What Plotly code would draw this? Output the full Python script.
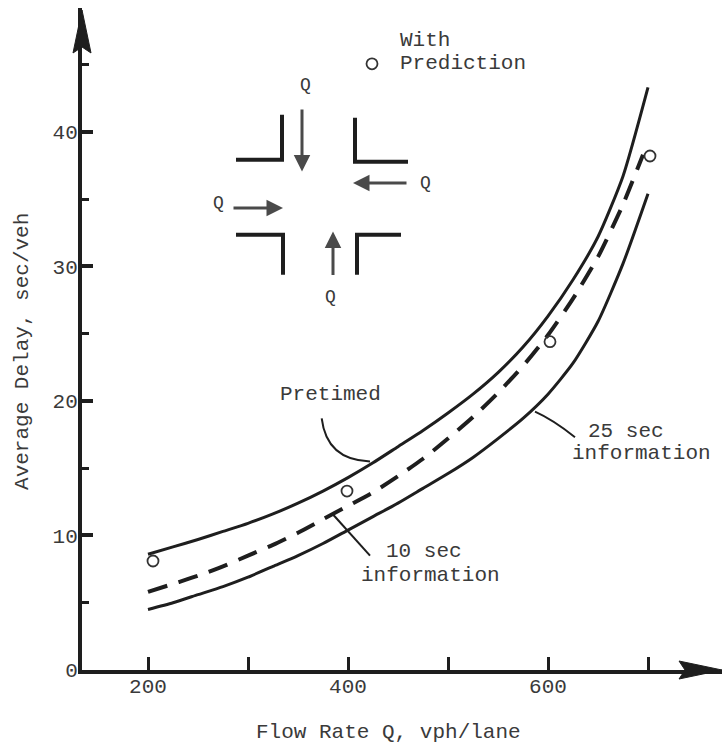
import plotly.graph_objects as go

# ---------------- data ----------------
flow = [200, 225, 250, 275, 300, 325, 350, 375, 400, 425, 450,
        475, 500, 525, 550, 575, 600, 625, 650, 675, 700]
pretimed = [8.6, 9.15, 9.7, 10.3, 10.9, 11.6, 12.4, 13.3, 14.3, 15.4, 16.6,
            17.8, 19.1, 20.5, 22.1, 24.0, 26.3, 29.0, 32.2, 36.7, 43.3]
flow_10 = [200, 225, 250, 275, 300, 325, 350, 375, 400, 425, 450,
           475, 500, 525, 550, 575, 600, 625, 650, 675, 695]
info_10 = [5.8, 6.4, 7.0, 7.7, 8.5, 9.3, 10.2, 11.2, 12.2, 13.2, 14.4,
           15.7, 17.2, 18.8, 20.6, 22.6, 24.9, 27.6, 30.7, 34.6, 38.3]
info_25 = [4.5, 5.0, 5.6, 6.2, 6.9, 7.7, 8.5, 9.4, 10.4, 11.4, 12.4,
           13.5, 14.6, 15.8, 17.2, 18.7, 20.5, 22.8, 25.9, 30.2, 35.4]
pred_flow = [205, 399, 602, 702]
pred_delay = [8.1, 13.3, 24.4, 38.2]

x_ticks = [200, 300, 400, 500, 600, 700]
x_ticktext = ["200", "", "400", "", "600", ""]
y_ticks = [0, 10, 20, 30, 40]
y_minor = [5, 15, 25, 35, 45]

X_RANGE = [134, 774]
Y_RANGE = [0, 49.2]

FONT = "Liberation Mono, Courier New, monospace"
INK = "#1e1e1e"
TXT = "#3a3a3a"

fig = go.Figure()

line_style = dict(color=INK, width=3, shape="spline", smoothing=0.6)
fig.add_trace(go.Scatter(x=flow, y=pretimed, mode="lines", line=line_style, name="Pretimed"))
fig.add_trace(go.Scatter(x=flow, y=info_25, mode="lines", line=line_style, name="25 sec information"))
fig.add_trace(go.Scatter(x=flow_10, y=info_10, mode="lines",
                         line=dict(color=INK, width=4, dash="20px,12px", shape="spline", smoothing=0.6),
                         name="10 sec information"))
fig.add_trace(go.Scatter(x=pred_flow, y=pred_delay, mode="markers",
                         marker=dict(symbol="circle-open", size=11, color="#333", line=dict(width=1.8)),
                         name="With Prediction"))
# legend symbol
fig.add_trace(go.Scatter(x=[424], y=[45.05], mode="markers",
                         marker=dict(symbol="circle-open", size=11, color="#333", line=dict(width=1.8)),
                         showlegend=False, hoverinfo="skip"))

shapes = []
annotations = []


def txt(s, x, y, size=21, xanchor="center"):
    annotations.append(dict(text=s, x=x, y=y, xref="x", yref="y", showarrow=False,
                            font=dict(family=FONT, size=size, color=TXT),
                            xanchor=xanchor, yanchor="middle"))


def poly(pts, width=4, color=INK):
    d = "M " + " L ".join(f"{a},{b}" for a, b in pts)
    shapes.append(dict(type="path", path=d, xref="x", yref="y",
                       line=dict(color=color, width=width), layer="above"))


def arrow(tail, tip, color="#4a4a4a"):
    annotations.append(dict(text="", x=tip[0], y=tip[1], ax=tail[0], ay=tail[1],
                            xref="x", yref="y", axref="x", ayref="y",
                            showarrow=True, arrowhead=2, arrowsize=1.1,
                            arrowwidth=3, arrowcolor=color))


# legend text
txt("With", 450, 46.8, xanchor="left")
txt("Prediction", 450, 45.05, xanchor="left")

# curve labels
txt("Pretimed", 382, 20.45)
txt("10 sec", 476, 8.8)
txt("information", 482, 7.0)
txt("25 sec", 678, 17.7)
txt("information", 693, 16.1)

# leaders
shapes.append(dict(type="path", path="M 373.7,18.7 Q 378.7,15.6 422,15.5", xref="x", yref="y",
                   line=dict(color=INK, width=2)))
shapes.append(dict(type="path", path="M 422,8.5 L 385,11.56", xref="x", yref="y",
                   line=dict(color=INK, width=2)))
shapes.append(dict(type="path", path="M 627,17.3 Q 605,18.6 587,19.2", xref="x", yref="y",
                   line=dict(color=INK, width=2)))

# intersection sketch
poly([(288, 37.92), (334, 37.92), (334, 41.26)])
poly([(407, 41.04), (407, 37.77), (460, 37.77)])
poly([(288, 32.34), (335, 32.34), (335, 29.37)])
poly([(409, 29.37), (409, 32.34), (453, 32.34)])
arrow((354, 41.76), (354, 37.05))
arrow((460, 36.19), (405, 36.19))
arrow((284, 34.33), (335, 34.33))
arrow((385, 29.24), (385, 32.59))
txt("Q", 357, 43.5, size=18)
txt("Q", 477, 36.2, size=18)
txt("Q", 270, 34.72, size=18)
txt("Q", 382, 27.7, size=18)

# axis titles
annotations.append(dict(text="Average Delay, sec/veh", x=-0.094, y=23.7, xref="paper", yref="y",
                        textangle=-90, showarrow=False, xanchor="center", yanchor="middle",
                        font=dict(family=FONT, size=21, color=TXT)))
annotations.append(dict(text="Flow Rate Q, vph/lane", x=0.479, y=-0.095, xref="paper", yref="paper",
                        showarrow=False, xanchor="center", yanchor="middle",
                        font=dict(family=FONT, size=21, color=TXT)))

# axis arrowheads (pixel-sized, paper-anchored so they are not clipped)
shapes.append(dict(type="path", xref="paper", yref="paper", xsizemode="pixel", ysizemode="pixel",
                   xanchor=0, yanchor=0.997,
                   path="M 0,0 L -9,-43 L 0,-37 L 9,-43 Z",
                   fillcolor=INK, line=dict(color=INK, width=1), layer="above"))
shapes.append(dict(type="path", xref="paper", yref="paper", xsizemode="pixel", ysizemode="pixel",
                   xanchor=1, yanchor=0,
                   path="M 0,0 L -43,9 L -37,0 L -43,-9 Z",
                   fillcolor=INK, line=dict(color=INK, width=1), layer="above"))

fig.update_layout(
    width=722, height=745,
    margin=dict(l=82, r=0, t=8, b=75),
    paper_bgcolor="white", plot_bgcolor="white",
    showlegend=False,
    shapes=shapes, annotations=annotations,
    font=dict(family=FONT, size=21, color=TXT),
)
fig.update_xaxes(range=X_RANGE, showgrid=False, zeroline=False, showline=True,
                 linecolor=INK, linewidth=4, ticks="inside", ticklen=13, tickwidth=3,
                 tickcolor=INK, tickvals=x_ticks, ticktext=x_ticktext,
                 tickfont=dict(family=FONT, size=21, color=TXT), ticklabelstandoff=-6)
fig.update_yaxes(range=Y_RANGE, showgrid=False, zeroline=False, showline=True,
                 linecolor=INK, linewidth=4, ticks="inside", ticklen=11, tickwidth=4,
                 tickcolor=INK, tickvals=y_ticks,
                 minor=dict(tickvals=y_minor, ticks="inside", ticklen=7, tickwidth=3, tickcolor=INK),
                 tickfont=dict(family=FONT, size=21, color=TXT), ticklabelstandoff=-4)

fig.write_html("out.html", config={"displayModeBar": False},
               post_script="document.body.style.margin='0';document.body.style.overflow='hidden';")
